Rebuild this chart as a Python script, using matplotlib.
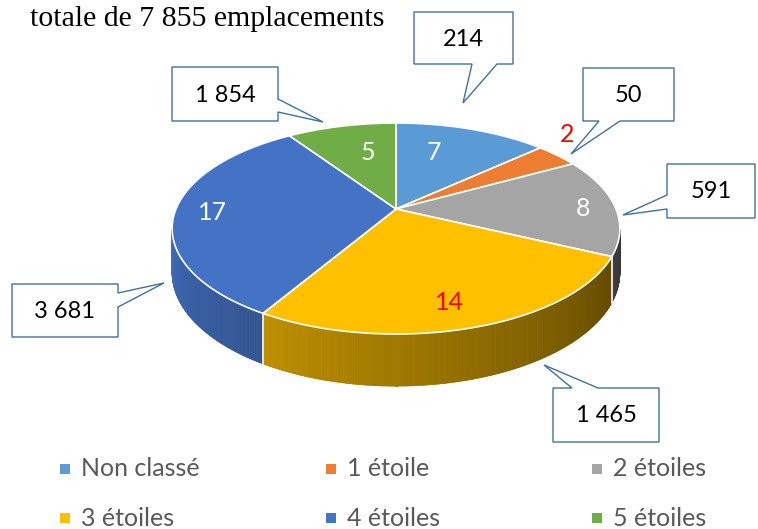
import numpy as np
import matplotlib
matplotlib.use("Agg")
import matplotlib.pyplot as plt
from matplotlib.patches import Polygon

# ---------------------------------------------------------------------------
# Données : nombre d'établissements (tranches) et d'emplacements (bulles).
# ---------------------------------------------------------------------------
categories = ["Non classé", "1 étoile", "2 étoiles", "3 étoiles", "4 étoiles", "5 étoiles"]
nb_etablissements = [7, 2, 8, 14, 17, 5]
nb_emplacements = ["214", "50", "591", "1 465", "3 681", "1 854"]
titre = "totale de 7 855 emplacements"

colors = ["#5B9BD5", "#ED7D31", "#A5A5A5", "#FFC000", "#4472C4", "#70AD47"]
label_colors = ["white", "red", "white", "red", "white", "white"]

# Position des étiquettes dans les tranches (pixels)
label_pos = [(434, 153), (567, 134), (583, 208), (449, 302), (212, 213), (368, 153)]

# Bulles : (x0, y0, x1, y1), côté de la pointe, base de la pointe (a, b), pointe
callouts = [
    ((414, 12, 513, 64), "bottom", (472, 497), (463, 103)),
    ((583, 68, 674, 121), "bottom", (599, 620), (571, 154)),
    ((667, 164, 755, 218), "left", (195, 209), (623, 215)),
    ((553, 388, 659, 442), "top", (572, 598), (544, 365)),
    ((12, 284, 118, 337), "right", (293, 307), (164, 283)),
    ((172, 67, 278, 121), "right", (99, 112), (323, 122)),
]

FONT = ["Lato", "DejaVu Sans"]

# Géométrie de la tarte 3D (perspective simple)
CX, CY = 396, 209
A, B = 220, 101.9
K = 0.185
H = 42.4


def proj(phi, r=1.0, dz=0.0):
    """Projette un point du disque (angle phi depuis midi, sens horaire)."""
    px = r * np.sin(phi)
    pz = r * np.cos(phi)
    s = 1.0 / (1.0 + K * pz)
    return CX + A * px * s, CY - B * pz * s + dz * s


fig = plt.figure(figsize=(7.58, 5.29), dpi=100)
ax = fig.add_axes([0, 0, 1, 1])
ax.set_xlim(0, 758)
ax.set_ylim(529, 0)
ax.axis("off")

total = sum(nb_etablissements)
bounds = np.concatenate([[0], np.cumsum(nb_etablissements)]) / total * 2 * np.pi

# --- flancs (partie visible : entre les deux silhouettes) ---
phi_a = np.pi / 2 + np.arcsin(K)
phi_b = 3 * np.pi / 2 - np.arcsin(K)
steps = np.linspace(phi_a, phi_b, 400)
for p1, p2 in zip(steps[:-1], steps[1:]):
    pm = 0.5 * (p1 + p2)
    idx = np.searchsorted(bounds, pm) - 1
    base = np.array(matplotlib.colors.to_rgb(colors[idx]))
    f = 0.38 + (np.degrees(pm) - 115) * 0.00379
    c = np.clip(base * f, 0, 1)
    x1, y1 = proj(p1)
    x2, y2 = proj(p2)
    x3, y3 = proj(p2, dz=H)
    x4, y4 = proj(p1, dz=H)
    ax.add_patch(Polygon([(x1, y1), (x2, y2), (x3, y3), (x4, y4)],
                         closed=True, facecolor=c, edgecolor=c, lw=0.6))

# traits blancs entre les flancs
for b in bounds:
    if phi_a < b < phi_b:
        x1, y1 = proj(b)
        x2, y2 = proj(b, dz=H)
        ax.plot([x1, x2], [y1, y2], color="white", lw=1.2)

# --- face supérieure ---
for i in range(len(categories)):
    ph = np.linspace(bounds[i], bounds[i + 1], 80)
    pts = [(CX, CY)] + [proj(p) for p in ph]
    ax.add_patch(Polygon(pts, closed=True, facecolor=colors[i],
                         edgecolor="white", lw=1.2, joinstyle="round"))

# étiquettes dans les tranches
for i, (x, y) in enumerate(label_pos):
    ax.text(x, y, str(nb_etablissements[i]), color=label_colors[i],
            fontsize=18, family=FONT, ha="center", va="center")

# --- bulles ---
for (box, side, (a, b), tip), val in zip(callouts, nb_emplacements):
    x0, y0, x1, y1 = box
    if side == "bottom":
        pts = [(x0, y0), (x1, y0), (x1, y1), (b, y1), tip, (a, y1), (x0, y1)]
    elif side == "top":
        pts = [(x0, y0), (a, y0), tip, (b, y0), (x1, y0), (x1, y1), (x0, y1)]
    elif side == "left":
        pts = [(x0, y0), (x1, y0), (x1, y1), (x0, y1), (x0, b), tip, (x0, a)]
    else:
        pts = [(x0, y0), (x1, y0), (x1, a), tip, (x1, b), (x1, y1), (x0, y1)]
    ax.add_patch(Polygon(pts, closed=True, facecolor="white",
                         edgecolor="#41719C", lw=1.0))
    ax.text((x0 + x1) / 2, (y0 + y1) / 2 + 1, val, color="black",
            fontsize=17, family=FONT, ha="center", va="center")

# --- titre (partiellement visible) ---
ax.text(30, 26, titre, family=["Liberation Serif", "DejaVu Serif"],
        fontsize=21.5, color="black", ha="left", va="baseline")

# --- légende ---
leg_x = [65, 331, 597]
leg_y = [469, 518]
for i, name in enumerate(categories):
    x = leg_x[i % 3]
    y = leg_y[i // 3]
    ax.add_patch(Polygon([(x - 5, y - 5), (x + 5, y - 5),
                          (x + 5, y + 5), (x - 5, y + 5)],
                         closed=True, facecolor=colors[i], edgecolor="none"))
    ax.text(x + 16, y, name, color="#595959", fontsize=18, family=FONT,
            ha="left", va="center")

fig.savefig("out.png", dpi=100)
